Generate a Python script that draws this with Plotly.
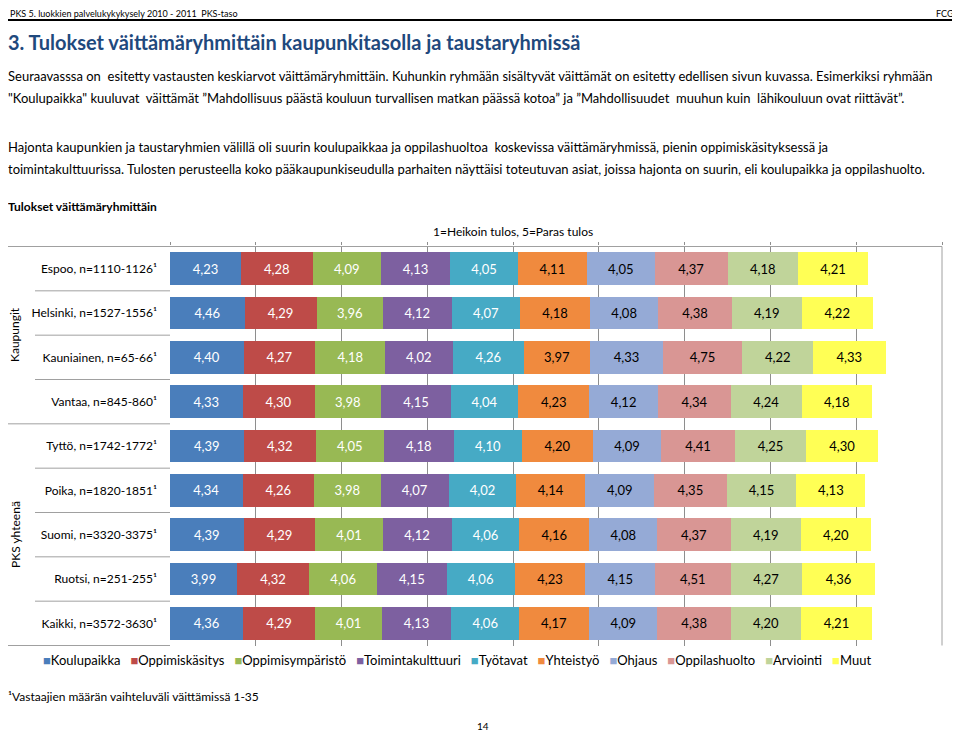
import plotly.graph_objects as go

categories = [
    "Espoo, n=1110-1126¹", "Helsinki, n=1527-1556¹", "Kauniainen, n=65-66¹",
    "Vantaa, n=845-860¹", "Tyttö, n=1742-1772¹", "Poika, n=1820-1851¹",
    "Suomi, n=3320-3375¹", "Ruotsi, n=251-255¹", "Kaikki, n=3572-3630¹",
]
series_names = ["Koulupaikka", "Oppimiskäsitys", "Oppimisympäristö", "Toimintakulttuuri",
                "Työtavat", "Yhteistyö", "Ohjaus", "Oppilashuolto", "Arviointi", "Muut"]
koulupaikka = [4.23, 4.46, 4.40, 4.33, 4.39, 4.34, 4.39, 3.99, 4.36]
oppimiskasitys = [4.28, 4.29, 4.27, 4.30, 4.32, 4.26, 4.29, 4.32, 4.29]
oppimisymparisto = [4.09, 3.96, 4.18, 3.98, 4.05, 3.98, 4.01, 4.06, 4.01]
toimintakulttuuri = [4.13, 4.12, 4.02, 4.15, 4.18, 4.07, 4.12, 4.15, 4.13]
tyotavat = [4.05, 4.07, 4.26, 4.04, 4.10, 4.02, 4.06, 4.06, 4.06]
yhteistyo = [4.11, 4.18, 3.97, 4.23, 4.20, 4.14, 4.16, 4.23, 4.17]
ohjaus = [4.05, 4.08, 4.33, 4.12, 4.09, 4.09, 4.08, 4.15, 4.09]
oppilashuolto = [4.37, 4.38, 4.75, 4.34, 4.41, 4.35, 4.37, 4.51, 4.38]
arviointi = [4.18, 4.19, 4.22, 4.24, 4.25, 4.15, 4.19, 4.27, 4.20]
muut = [4.21, 4.22, 4.33, 4.18, 4.30, 4.13, 4.20, 4.36, 4.21]
series_values = [koulupaikka, oppimiskasitys, oppimisymparisto, toimintakulttuuri,
                 tyotavat, yhteistyo, ohjaus, oppilashuolto, arviointi, muut]
colors = ["#4A7EBB", "#BE4B48", "#98B954", "#7D60A0", "#46AAC5",
          "#F08A3E", "#95AAD6", "#D99694", "#C0D49A", "#FFFF55"]
text_colors = ["white"] * 5 + ["black"] * 5
group_labels = ["Kaupungit", "PKS yhteenä"]

# The page body has an 8px margin; the figure is sized so it fills the window.
OFF = 8
W, H = 960 - OFF, 735 - OFF
def px(x): return (x - OFF) / W
def py(y): return 1 - (y - OFF) / H

FONT = "Lato"

fig = go.Figure()
for name, vals, col, tcol in zip(series_names, series_values, colors, text_colors):
    fig.add_trace(go.Bar(
        y=categories, x=vals, name=name, orientation="h",
        marker=dict(color=col, line=dict(width=0)),
        text=[f"{v:.2f}".replace(".", ",") for v in vals],
        textposition="inside", insidetextanchor="middle",
        textfont=dict(color=tcol, size=13, family=FONT),
        showlegend=False, hoverinfo="skip",
    ))

xmax = 46.1
ticks = [xmax * k / 9 for k in range(10)]

shapes = []
line_col = "#A0A0A0"
shapes.append(dict(type="line", xref="paper", yref="y", x0=0, x1=px(942), y0=-0.5, y1=-0.5,
                   line=dict(color=line_col, width=1)))
for b in [0.5, 1.5, 2.5, 4.5, 5.5, 6.5, 7.5]:
    shapes.append(dict(type="line", xref="paper", yref="y", x0=px(35), x1=px(170), y0=b, y1=b,
                       line=dict(color=line_col, width=1)))
for b in [3.5, 8.5]:
    shapes.append(dict(type="line", xref="paper", yref="y", x0=0, x1=px(170), y0=b, y1=b,
                       line=dict(color=line_col, width=1)))
shapes.append(dict(type="line", xref="paper", yref="y", x0=px(942), x1=px(942), y0=-0.5, y1=8.5,
                   line=dict(color=line_col, width=1)))
shapes.append(dict(type="line", xref="paper", yref="paper", x0=0, x1=1, y0=py(20), y1=py(20),
                   line=dict(color="black", width=2)))

ann = []
def text(x, y, s, size, color="black", xanchor="left", bold=False, angle=0):
    if bold:
        s = f"<b>{s}</b>"
    ann.append(dict(x=px(x), y=py(y), xref="paper", yref="paper", text=s, showarrow=False,
                    xanchor=xanchor, yanchor="middle", textangle=angle,
                    font=dict(size=size, family=FONT, color=color)))

text(8, 14, "PKS 5. luokkien palvelukykykysely 2010 - 2011  PKS-taso", 9)
text(956, 14, "FCG", 9, xanchor="right")
text(6, 42, "3. Tulokset väittämäryhmittäin kaupunkitasolla ja taustaryhmissä", 20, color="#1F497D", bold=True)
text(6, 76, "Seuraavasssa on  esitetty vastausten keskiarvot väittämäryhmittäin. Kuhunkin ryhmään sisältyvät väittämät on esitetty edellisen sivun kuvassa. Esimerkiksi ryhmään", 13)
text(6, 98, "\"Koulupaikka\" kuuluvat  väittämät ”Mahdollisuus päästä kouluun turvallisen matkan päässä kotoa” ja ”Mahdollisuudet  muuhun kuin  lähikouluun ovat riittävät”.", 13)
text(6, 147, "Hajonta kaupunkien ja taustaryhmien välillä oli suurin koulupaikkaa ja oppilashuoltoa  koskevissa väittämäryhmissä, pienin oppimiskäsityksessä ja", 13)
text(6, 169, "toimintakulttuurissa. Tulosten perusteella koko pääkaupunkiseudulla parhaiten näyttäisi toteutuvan asiat, joissa hajonta on suurin, eli koulupaikka ja oppilashuolto.", 13)
text(6, 206, "Tulokset väittämäryhmittäin", 12, bold=True)
text(513, 231, "1=Heikoin tulos, 5=Paras tulos", 12, xanchor="center")
text(15, 335, group_labels[0], 12, xanchor="center", angle=-90)
text(15, 535, group_labels[1], 12, xanchor="center", angle=-90)
legend_str = "&nbsp;&nbsp;&nbsp;".join(
    f"<span style='color:{c}'>■</span>{n}" for n, c in zip(series_names, colors))
text(457, 660, legend_str, 13, xanchor="center")
text(6, 696, "¹Vastaajien määrän vaihteluväli väittämissä 1-35", 12)
text(483, 726, "14", 10, xanchor="center")

fig.update_layout(
    width=W, height=H, margin=dict(l=0, r=0, t=0, b=0),
    paper_bgcolor="white", plot_bgcolor="white",
    barmode="stack", bargap=0.26,
    shapes=shapes, annotations=ann,
    uniformtext=dict(minsize=13, mode="show"),
    xaxis=dict(domain=[px(170), px(942)], range=[0, xmax], tickvals=ticks,
               showgrid=True, gridcolor="#8E8E8E", gridwidth=1, zeroline=False,
               showticklabels=False, side="top", ticks="outside", ticklen=3,
               tickcolor="#8E8E8E", showline=False),
    yaxis=dict(domain=[py(646), py(246)], autorange="reversed", showgrid=False,
               zeroline=False, showline=False, ticks="", ticklabelstandoff=12,
               tickfont=dict(size=12, family=FONT, color="black")),
)
fig.write_html("out.html")
